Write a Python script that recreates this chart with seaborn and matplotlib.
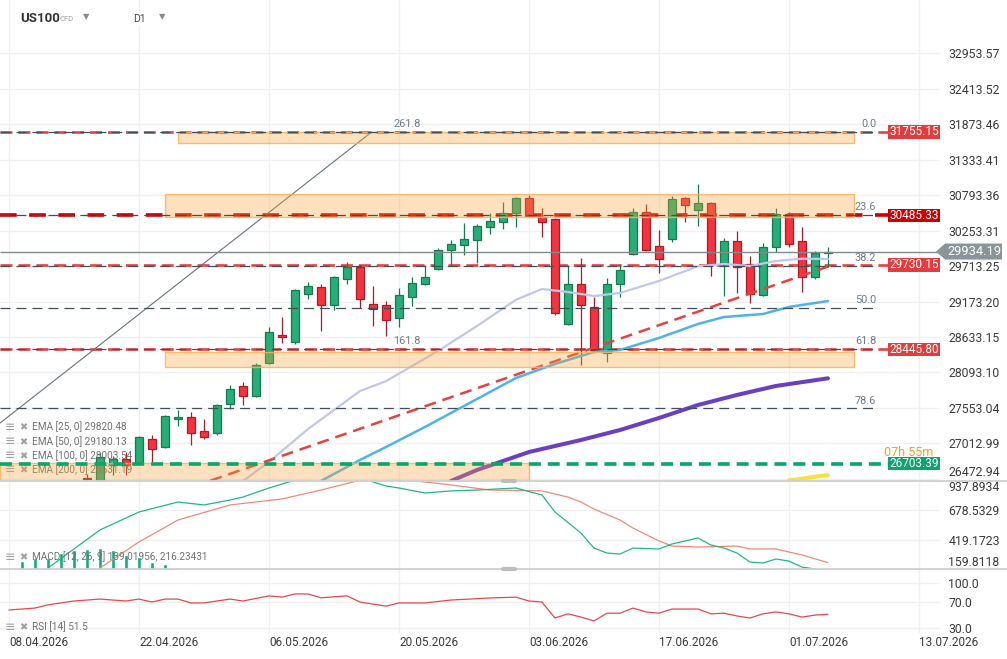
import numpy as np
import pandas as pd
import seaborn as sns
import matplotlib.pyplot as plt
from matplotlib.patches import Rectangle, Polygon
from matplotlib.lines import Line2D
from matplotlib.transforms import blended_transform_factory

# ---- US100 D1 candles, bar index 0 = 08.04.2026 ----
bar_idx = list(range(6, 64))
opens = [26485, 26303, 26683, 26775, 26714, 27079, 26957, 27384, 27414, 27201,
         27171, 27612, 27887, 27734, 28237, 28663, 28557, 29288, 29394, 29120,
         29516, 29699, 29135, 29120, 28922, 29242, 29440, 29668, 29958, 30034,
         30110, 30308, 30384, 30521, 30750, 30460, 30430, 28831, 29440, 29090,
         28389, 29440, 29897, 30537, 30019, 30125, 30750, 30567, 30674, 29745,
         30095, 29745, 29272, 30003, 30506, 30095, 29547, 29912]
highs = [26546, 26866, 26820, 26881, 27125, 27140, 27445, 27521, 27491, 27384,
         27612, 27902, 27947, 28237, 28785, 28937, 29364, 29470, 29440, 29562,
         29775, 29729, 29410, 29181, 29379, 29547, 29729, 29988, 30110, 30369,
         30354, 30521, 30689, 30765, 30795, 30598, 30445, 29729, 29836, 29242,
         29531, 29745, 30598, 30658, 30262, 30780, 30765, 30963, 30689, 30141,
         30247, 29866, 30064, 30598, 30537, 30308, 29943, 30003]
lows = [26440, 26226, 26531, 26531, 26699, 26683, 26942, 27277, 26988, 27079,
        27140, 27536, 27597, 27719, 28222, 28541, 28526, 29212, 28724, 29044,
        29440, 29074, 28800, 28648, 28785, 29105, 29425, 29653, 29729, 29882,
        29760, 30202, 30278, 30308, 30476, 30156, 28968, 28816, 28206, 28404,
        28252, 29242, 29882, 29943, 29608, 30080, 30384, 30323, 29562, 29257,
        29303, 29151, 29257, 29927, 30003, 29318, 29516, 29699]
closes = [26470, 26805, 26775, 26683, 27110, 26927, 27430, 27414, 27171, 27110,
          27597, 27841, 27734, 28206, 28709, 28633, 29349, 29410, 29120, 29547,
          29699, 29212, 29059, 28892, 29272, 29455, 29547, 29958, 30049, 30125,
          30323, 30400, 30521, 30750, 30491, 30384, 28998, 29440, 29120, 28435,
          29440, 29653, 30537, 29958, 29821, 30735, 30643, 30674, 29745, 30095,
          29699, 29288, 30003, 30506, 30049, 29547, 29912, 29934.19]

# moving averages (bar index, value)
ema25_idx = [18, 20, 23, 27, 29, 33, 36, 39, 41, 43, 45, 47, 50, 53, 55, 57, 59, 61, 63]
ema25 = [26440, 26730, 27230, 27810, 27960, 28420, 28800, 29200, 29364, 29318,
         29257, 29303, 29486, 29710, 29745, 29714, 29790, 29825, 29820.48]
ema50_idx = [24, 27, 29, 32, 37, 39, 42, 45, 47, 50, 53, 55, 58, 60, 63]
ema50 = [26440, 26760, 26957, 27262, 27795, 28008, 28222, 28404, 28435, 28618,
         28831, 28937, 28983, 29090, 29180.13]
ema100_idx = [34, 36, 40, 44, 47, 50, 53, 56, 59, 63]
ema100 = [26440, 26607, 26881, 27064, 27216, 27399, 27597, 27750, 27887, 28003.54]
ema200_idx = [60, 63]
ema200 = [26450, 26531.19]

# MACD panel
macd_idx = [3, 7, 10, 13, 15, 17, 18, 20, 22, 24, 26, 28, 29, 30, 32, 34, 36, 39, 41, 42,
            44, 45, 46, 47, 48, 50, 51, 53, 54, 55, 56, 57, 58, 59, 60, 61, 62, 63]
macd = [169, 505, 664, 752, 726, 770, 796, 876, 946, 1010, 1030, 930, 894, 876, 832, 850,
        858, 876, 814, 664, 478, 345, 301, 292, 345, 337, 381, 434, 372, 345, 301, 221,
        213, 248, 230, 177, 160, 139.02]
signal_idx = [7, 10, 13, 17, 21, 24, 27, 29, 32, 34, 37, 41, 43, 44, 45, 47, 48, 50, 51,
              53, 56, 57, 59, 60, 61, 63]
signal = [169, 399, 593, 726, 779, 858, 945, 970, 929, 903, 858, 850, 796, 752, 690, 593,
          522, 408, 363, 354, 363, 337, 337, 310, 284, 216.23]
hist_idx = list(range(0, 14))
hist = [177, 230, 257, 257, 301, 328, 337, 345, 328, 284, 266, 222, 204, 177]

# RSI panel
rsi_idx = [0, 2, 3, 5, 7, 9, 10, 11, 12, 13, 14, 15, 17, 18, 20, 21, 22, 23, 24, 26,
           27, 29, 30, 32, 34, 37, 39, 40, 41, 42, 43, 44, 45, 46, 47, 48, 49, 50, 51, 53,
           54, 55, 56, 57, 58, 59, 60, 61, 62, 63]
rsi = [58, 61, 66, 72, 75, 72, 75, 70.4, 75, 75, 69, 69, 75, 72, 80, 78, 83, 83, 77, 80,
       70.4, 64, 69, 69, 73.5, 76.7, 78, 72, 70.4, 45.5, 52, 47, 41, 53, 53, 61, 55, 53,
       59.5, 59.5, 52, 53, 48.7, 45.5, 52, 55, 52, 47, 50, 51.5]

# levels and zones
red_levels = [31755.15, 29730.15, 28445.80]
res_level = 30485.33
green_level = 26703.39
last_price = 29934.19
fib_labels = ['0.0', '23.6', '38.2', '50.0', '61.8', '78.6']
fib_prices = [31755.15, 30491, 29710, 29078, 28445.8, 27546]
ext_labels = ['261.8', '161.8']
ext_prices = [31755.15, 28445.8]
zone_left = [13.0, 12.0, 12.0, -0.7]
zone_right = [65.0, 65.0, 65.0, 40.0]
zone_low = [31586, 30460, 28180, 26300]
zone_high = [31753, 30810, 28404, 26714]
diag_idx = [-0.7, 27.9]
diag_price = [27320, 31755.15]
trend_idx = [10, 63]
trend_price = [26068, 29705]

price_ticks = [32953.57, 32413.52, 31873.46, 31333.41, 30793.36, 30253.31, 29713.25,
               29173.20, 28633.15, 28093.10, 27553.04, 27012.99, 26472.94]
macd_ticks = [937.8934, 678.5329, 419.1723, 159.8118]
rsi_ticks = [100.0, 70.0, 30.0]
date_idx = [0, 10, 20, 30, 40, 50, 60, 70]
date_labels = ['08.04.2026', '22.04.2026', '06.05.2026', '20.05.2026',
               '03.06.2026', '17.06.2026', '01.07.2026', '13.07.2026']

sns.set_theme(style="white")
plt.rcParams['font.family'] = ['Roboto', 'DejaVu Sans']
plt.rcParams['lines.scale_dashes'] = False

W, H = 1007, 659
fig = plt.figure(figsize=(W / 100, H / 100), dpi=100, facecolor='white')


def fx(x):
    return x / W


def fy(y):
    return 1 - y / H


def panel(top, bottom):
    return fig.add_axes([0, fy(bottom), 940 / W, (bottom - top) / H])


ax = panel(0, 481)
ax_macd = panel(481, 569)
ax_rsi = panel(569, 633)

XL = (-0.69, 71.62)
for a in (ax, ax_macd, ax_rsi):
    for s in a.spines.values():
        s.set_visible(False)
    a.set_facecolor('white')
    a.yaxis.tick_right()
    a.set_xticks(date_idx)
    a.grid(True, color='#f0f0f0', lw=1)
    a.set_axisbelow(True)
    a.tick_params(axis='y', length=0, pad=6, labelsize=8.8, labelcolor='#3a3a3a')
    a.tick_params(axis='x', length=0)

# ---- main panel ----
df = pd.DataFrame(dict(i=bar_idx, o=opens, h=highs, l=lows, c=closes))
up = df.c >= df.o
fill = np.where(up, '#26ad78', '#f5333f')
edge = np.where(up, '#167a4e', '#a81c28')
ax.vlines(df.i, df.l, df.h, colors=edge, lw=0.9, zorder=3)
ax.bar(df.i, (df.c - df.o).abs().clip(lower=12), bottom=df[['o', 'c']].min(axis=1),
       width=0.62, color=fill, edgecolor=edge, linewidth=0.9, zorder=3.2)

for xs, ys, col, lw in [(ema25_idx, ema25, '#c3c6ea', 1.6), (ema50_idx, ema50, '#4fb3e8', 1.8),
                        (ema100_idx, ema100, '#6b3fc2', 2.9), (ema200_idx, ema200, '#f8e23a', 2.9)]:
    sns.lineplot(x=xs, y=ys, ax=ax, color=col, linewidth=lw, zorder=4, legend=False)

ax.plot(trend_idx, trend_price, color='#e8403f', lw=1.8, ls=(0, (8.6, 5)), zorder=4)
ax.plot(diag_idx, diag_price, color='#66727a', lw=0.8, zorder=4)

ax.hlines(red_levels, -0.7, 67.6, colors='#e8403f', lw=1.9, linestyles=(0, (8.6, 4.3)), zorder=2.5)
ax.hlines(res_level, -0.7, 67.6, colors='#cc0000', lw=2.6, linestyles=(0, (12, 9)), zorder=2.5)
ax.hlines(fib_prices, -0.7, 66.6, colors='#3f4e59', lw=0.9, linestyles=(0, (7.2, 4.3)), zorder=6)
ax.hlines(green_level, -0.7, 67.6, colors='#0aa56c', lw=2.6, linestyles=(0, (8.6, 5)), zorder=6)
ax.hlines(last_price, -0.7, 72, colors='#7f8c8d', lw=1.0, zorder=6)

for x0, x1, lo, hi in zip(zone_left, zone_right, zone_low, zone_high):
    ax.add_patch(Rectangle((x0, lo), x1 - x0, hi - lo, facecolor=(0.976, 0.643, 0.216, 0.32),
                           edgecolor=(0.976, 0.70, 0.35, 0.85), lw=1, zorder=5))

for lab, p in zip(fib_labels, fib_prices):
    ax.annotate(lab, (66.7, p), xytext=(0, 2), textcoords='offset points', ha='right',
                va='bottom', fontsize=7.8, color='#6d7a84', zorder=7)
for lab, p in zip(ext_labels, ext_prices):
    ax.annotate(lab, (30.6, p), xytext=(0, 2), textcoords='offset points', ha='center',
                va='bottom', fontsize=7.8, color='#6d7a84', zorder=7)

ax.text(fx(884), fy(452), '07h 55m', transform=fig.transFigure, fontsize=9,
        color='#f5a020', va='center', ha='left', zorder=7)
for p, col in [(31755.15, '#e23c3c'), (res_level, '#cc0000'), (29730.15, '#e23c3c'),
               (28445.80, '#e23c3c'), (green_level, '#0aa56c')]:
    ax.add_patch(Rectangle((67.6, p - 100), 5, 200, facecolor=col, edgecolor='none', zorder=9))
    ax.text(67.75, p, f'{p:.2f}', color='white', fontsize=8.5, va='center', ha='left',
            clip_on=True, zorder=10)

tr = blended_transform_factory(fig.transFigure, ax.transData)
h8 = 8 * 15.23
ax.add_patch(Polygon([(fx(936), last_price), (fx(945), last_price + h8), (fx(1002), last_price + h8),
                      (fx(1002), last_price - h8), (fx(945), last_price - h8)],
                     closed=True, transform=tr, facecolor='#8a9598', edgecolor='none',
                     clip_on=False, zorder=11))
ax.text(fx(947), last_price, f'{last_price:.2f}', transform=tr, color='white', fontsize=9.3,
        va='center', ha='left', clip_on=False, zorder=12)

ema_rows = [('EMA [25, 0] 29820.48', 427), ('EMA [50, 0] 29180.13', 442),
            ('EMA [100, 0] 28003.54', 456), ('EMA [200, 0] 26531.19', 470)]
for s, yy in ema_rows:
    ax.text(fx(5), fy(yy), '≡', transform=fig.transFigure, fontsize=9, color='#a0a0a0',
            va='center', zorder=4.5)
    ax.text(fx(19), fy(yy), '✖', transform=fig.transFigure, fontsize=7, color='#a0a0a0',
            va='center', zorder=4.5)
    ax.text(fx(32), fy(yy), s, transform=fig.transFigure, fontsize=7.2, color='#707070',
            va='center', zorder=4.5)

ax.set_xlim(*XL)
ax.set_ylim(26439.6, 33765.3)
ax.set_yticks(price_ticks, [f'{t:.2f}' for t in price_ticks])
ax.get_yticklabels()[-1].set_va('bottom')
ax.tick_params(axis='x', labelbottom=False)
ax.set_xlabel('')
ax.set_ylabel('')

# ---- MACD panel ----
ax_macd.bar(hist_idx, hist, width=0.32, color='#0bb07a', zorder=2)
sns.lineplot(x=signal_idx, y=signal, ax=ax_macd, color='#f08a78', linewidth=0.9, legend=False)
sns.lineplot(x=macd_idx, y=macd, ax=ax_macd, color='#1fb885', linewidth=0.9, legend=False)
ax_macd.set_xlim(*XL)
ax_macd.set_ylim(159.8118, 937.8934)
ax_macd.set_yticks(macd_ticks, [f'{t:.4f}' for t in macd_ticks])
labs = ax_macd.get_yticklabels()
labs[0].set_va('top')
labs[-1].set_va('bottom')
ax_macd.tick_params(axis='x', labelbottom=False)
ax_macd.set_xlabel('')
ax_macd.set_ylabel('')
ax_macd.text(fx(5), fy(557), '≡', transform=fig.transFigure, fontsize=9, color='#a0a0a0', va='center')
ax_macd.text(fx(19), fy(557), '✖', transform=fig.transFigure, fontsize=7, color='#a0a0a0', va='center')
ax_macd.text(fx(32), fy(557), 'MACD [12, 26, 9] 139.01956, 216.23431', transform=fig.transFigure,
             fontsize=7.2, color='#707070', va='center', zorder=5)

# ---- RSI panel ----
sns.lineplot(x=rsi_idx, y=rsi, ax=ax_rsi, color='#e5484d', linewidth=0.9, legend=False)
ax_rsi.set_xlim(*XL)
ax_rsi.set_ylim(22.2, 121.8)
ax_rsi.set_yticks(rsi_ticks, [f'{t:.1f}' for t in rsi_ticks])
ax_rsi.set_xticks(date_idx, date_labels)
for lbl in ax_rsi.get_xticklabels():
    lbl.set_ha('left')
ax_rsi.tick_params(axis='x', labelsize=8.5, labelcolor='#3a3a3a', pad=2)
ax_rsi.set_xlabel('')
ax_rsi.set_ylabel('')
ax_rsi.text(fx(5), fy(627), '≡', transform=fig.transFigure, fontsize=9, color='#a0a0a0', va='center')
ax_rsi.text(fx(19), fy(627), '✖', transform=fig.transFigure, fontsize=7, color='#a0a0a0', va='center')
ax_rsi.text(fx(32), fy(627), 'RSI [14] 51.5', transform=fig.transFigure,
            fontsize=7.2, color='#707070', va='center')

# panel separators and handles
for yy in (481, 569):
    fig.add_artist(Line2D([0, 1], [fy(yy)] * 2, transform=fig.transFigure, color='#cfcfcf', lw=1.3))
    fig.add_artist(Line2D([fx(503), fx(515)], [fy(yy)] * 2, transform=fig.transFigure,
                          color='#bdbdbd', lw=3))

# header
hb = dict(facecolor='white', edgecolor='none', pad=1.5)
fig.text(fx(20), fy(18), 'US100', fontsize=9.5, weight='bold', color='#333333', va='center', bbox=hb)
fig.text(fx(60), fy(19), 'CFD', fontsize=5.5, color='#9e9e9e', va='center')
fig.text(fx(83), fy(17), '▼', fontsize=6, color='#8a8a8a', va='center')
fig.text(fx(133), fy(19), 'D1', fontsize=7.5, color='#444444', va='center', bbox=hb)
fig.text(fx(159), fy(17), '▼', fontsize=6, color='#8a8a8a', va='center')

fig.savefig('out.png', dpi=100, facecolor='white')
